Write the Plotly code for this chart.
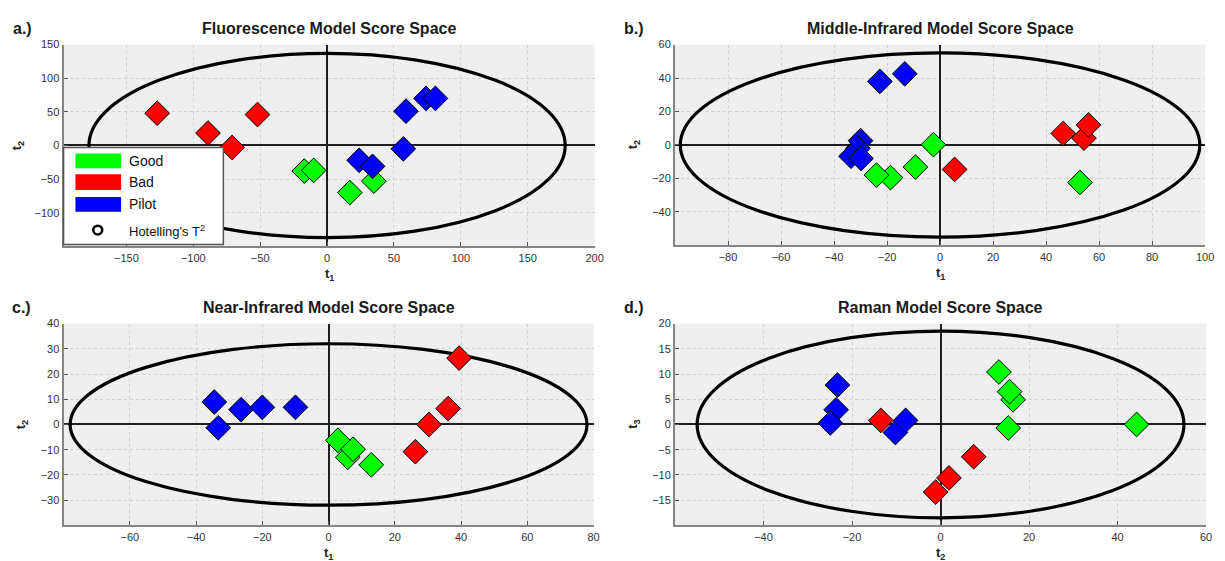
import plotly.graph_objects as go

W, H = 1225, 561

# ---------------- data ----------------
groups = ["Good", "Bad", "Pilot"]
group_colors = ["#00ff00", "#ff0000", "#0000ff"]

# Panel a: Fluorescence
a_good_x = [-17, -10, 17, 35]
a_good_y = [-38, -37, -70, -53]
a_bad_x = [-127, -89, -71, -52]
a_bad_y = [48, 18.5, -3, 46]
a_pilot_x = [59, 74, 81, 57, 24, 34]
a_pilot_y = [51, 70, 70, -5, -22, -31]

# Panel b: Middle-infrared
b_good_x = [-2.5, -9.3, -18.7, -24, 52.8]
b_good_y = [0.2, -13.2, -19.5, -18, -22.4]
b_bad_x = [46.5, 54.3, 56, 5.5]
b_bad_y = [6.9, 4.1, 12, -14.6]
b_pilot_x = [-22.7, -13.3, -30, -31, -33.6, -29.8]
b_pilot_y = [38, 42.5, 2.6, -2, -6.7, -8]

# Panel c: Near-infrared
c_good_x = [2.8, 5.8, 7.4, 12.9]
c_good_y = [-6.3, -13, -9.8, -16]
c_bad_x = [39.4, 36.1, 30.3, 26.2]
c_bad_y = [26.3, 6.3, 0, -10.8]
c_pilot_x = [-34.5, -33.3, -26.4, -20, -10]
c_pilot_y = [8.9, -1.3, 5.9, 6.8, 6.8]

# Panel d: Raman
d_good_x = [13.2, 16.4, 15.6, 15.3, 44.3]
d_good_y = [10.4, 4.9, 6.5, -0.7, 0]
d_bad_x = [-13.5, 7.5, 1.9, -1.1]
d_bad_y = [0.8, -6.4, -10.6, -13.4]
d_pilot_x = [-23.3, -23.6, -24.9, -10.2, -7.9]
d_pilot_y = [7.8, 2.9, 0.3, -1.6, 0.8]

# Hotelling's T2 limits (semi-axes of ellipses)
t2_a = [178, 137]
t2_b = [98, 55]
t2_c = [78, 32]
t2_d = [55, 18.5]

# tick labels
a_xticks = [-150, -100, -50, 0, 50, 100, 150, 200]
a_yticks = [-100, -50, 0, 50, 100, 150]
b_xticks = [-80, -60, -40, -20, 0, 20, 40, 60, 80, 100]
b_yticks = [-40, -20, 0, 20, 40, 60]
c_xticks = [-60, -40, -20, 0, 20, 40, 60, 80]
c_yticks = [-30, -20, -10, 0, 10, 20, 30, 40]
d_xticks = [-40, -20, 0, 20, 40, 60]
d_yticks = [-15, -10, -5, 0, 5, 10, 15, 20]

titles = ["Fluorescence Model Score Space", "Middle-Infrared Model Score Space",
          "Near-Infrared Model Score Space", "Raman Model Score Space"]
letters = ["a.)", "b.)", "c.)", "d.)"]
xlabels = ["t<sub>1</sub>", "t<sub>1</sub>", "t<sub>1</sub>", "t<sub>2</sub>"]
ylabels = ["t<sub>2</sub>", "t<sub>2</sub>", "t<sub>2</sub>", "t<sub>3</sub>"]

# ---------------- layout helpers ----------------
def px(x):
    return x / W

def py(y):
    return 1 - y / H

FONT = "Liberation Sans, Arial, sans-serif"

panels = [
    dict(x0=64, x1=599, y0=39, y1=243, xr=[-197, 200], yr=[-150, 150],
         xt=a_xticks, yt=a_yticks, t2=t2_a,
         data=[(a_good_x, a_good_y), (a_bad_x, a_bad_y), (a_pilot_x, a_pilot_y)],
         ylab_x=18, letter_x=11, title_y=23),
    dict(x0=680, x1=1214, y0=39, y1=242, xr=[-100, 100], yr=[-60, 60],
         xt=b_xticks, yt=b_yticks, t2=t2_b,
         data=[(b_good_x, b_good_y), (b_bad_x, b_bad_y), (b_pilot_x, b_pilot_y)],
         ylab_x=639, letter_x=627, title_y=23),
    dict(x0=64, x1=598, y0=321, y1=525, xr=[-80, 80], yr=[-40, 40],
         xt=c_xticks, yt=c_yticks, t2=t2_c,
         data=[(c_good_x, c_good_y), (c_bad_x, c_bad_y), (c_pilot_x, c_pilot_y)],
         ylab_x=22, letter_x=10, title_y=305),
    dict(x0=680, x1=1215, y0=321, y1=525, xr=[-60, 60], yr=[-20, 20],
         xt=d_xticks, yt=d_yticks, t2=t2_d,
         data=[(d_good_x, d_good_y), (d_bad_x, d_bad_y), (d_pilot_x, d_pilot_y)],
         ylab_x=638, letter_x=627, title_y=305),
]

fig = go.Figure()
layout = dict(
    width=W, height=H, margin=dict(l=0, r=0, t=0, b=0),
    paper_bgcolor="white", plot_bgcolor="#efefef",
    showlegend=False, font=dict(family=FONT, color="#222"),
    shapes=[], annotations=[],
)

axis_common = dict(
    showline=True, linecolor="#858585", linewidth=2, mirror=False,
    ticks="inside", ticklen=4, tickcolor="#555", tickwidth=1,
    showgrid=True, gridcolor="#d2d2d2", griddash="dot", gridwidth=1,
    zeroline=True, zerolinecolor="#1e1e1e",
    tickfont=dict(family=FONT, size=11, color="#333"),
)

for i, p in enumerate(panels):
    k = "" if i == 0 else str(i + 1)
    xa, ya = "x" + k, "y" + k
    layout["xaxis" + k] = dict(axis_common, domain=[px(p["x0"]), px(p["x1"])],
                               range=p["xr"], tickvals=p["xt"], anchor=ya,
                               zerolinewidth=1.6)
    layout["yaxis" + k] = dict(axis_common, domain=[py(p["y1"]), py(p["y0"])],
                               range=p["yr"], tickvals=p["yt"], anchor=xa,
                               zerolinewidth=2.4)
    # Hotelling's T2 ellipse
    layout["shapes"].append(dict(type="circle", xref=xa, yref=ya,
                                 x0=-p["t2"][0], x1=p["t2"][0],
                                 y0=-p["t2"][1], y1=p["t2"][1],
                                 line=dict(color="black", width=3.2), layer="between"))
    for (gx, gy), name, col in zip(p["data"], groups, group_colors):
        fig.add_trace(go.Scatter(
            x=gx, y=gy, mode="markers", name=name, xaxis=xa, yaxis=ya,
            marker=dict(symbol="diamond", size=19, color=col,
                        line=dict(color="black", width=1))))
    cx = (p["x0"] + p["x1"]) / 2
    layout["annotations"] += [
        dict(text="<b>" + titles[i] + "</b>", x=px(cx), y=py(p["title_y"]),
             xref="paper", yref="paper", showarrow=False, xanchor="center",
             yanchor="middle", font=dict(size=16, color="#1a1a1a", family=FONT)),
        dict(text="<b>" + letters[i] + "</b>", x=px(p["letter_x"]), y=py(p["title_y"]),
             xref="paper", yref="paper", showarrow=False, xanchor="left",
             yanchor="middle", font=dict(size=16, color="#1a1a1a", family=FONT)),
        dict(text="<b>" + xlabels[i] + "</b>", x=px(cx), y=py(p["y1"] + 28),
             xref="paper", yref="paper", showarrow=False, xanchor="center",
             yanchor="middle", font=dict(size=13, color="#222", family=FONT)),
        dict(text="<b>" + ylabels[i] + "</b>", x=px(p["ylab_x"]),
             y=py((p["y0"] + p["y1"]) / 2), textangle=-90,
             xref="paper", yref="paper", showarrow=False, xanchor="center",
             yanchor="middle", font=dict(size=13, color="#222", family=FONT)),
    ]

# ---------------- legend (panel a) ----------------
layout["shapes"].append(dict(type="rect", xref="paper", yref="paper",
                             x0=px(64), x1=px(225), y0=py(241), y1=py(143),
                             fillcolor="white", line=dict(color="#555", width=1.5),
                             layer="above"))
patch_rows = [(149, 164), (170, 186), (193, 208)]
for (t, b), name, col in zip(patch_rows, groups, group_colors):
    layout["shapes"].append(dict(type="rect", xref="paper", yref="paper",
                                 x0=px(76), x1=px(122), y0=py(b), y1=py(t),
                                 fillcolor=col, line=dict(width=0), layer="above"))
    layout["annotations"].append(dict(text=name, x=px(128), y=py((t + b) / 2),
                                      xref="paper", yref="paper", showarrow=False,
                                      xanchor="left", yanchor="middle",
                                      font=dict(size=14, color="#111", family=FONT)))
layout["shapes"].append(dict(type="circle", xref="paper", yref="paper",
                             x0=px(94), x1=px(103), y0=py(231), y1=py(222),
                             line=dict(color="black", width=2.5), layer="above"))
layout["annotations"].append(dict(text="Hotelling's T<sup>2</sup>", x=px(128), y=py(227),
                                  xref="paper", yref="paper", showarrow=False,
                                  xanchor="left", yanchor="middle",
                                  font=dict(size=13, color="#111", family=FONT)))

fig.update_layout(layout)
fig.write_html("out.html")
